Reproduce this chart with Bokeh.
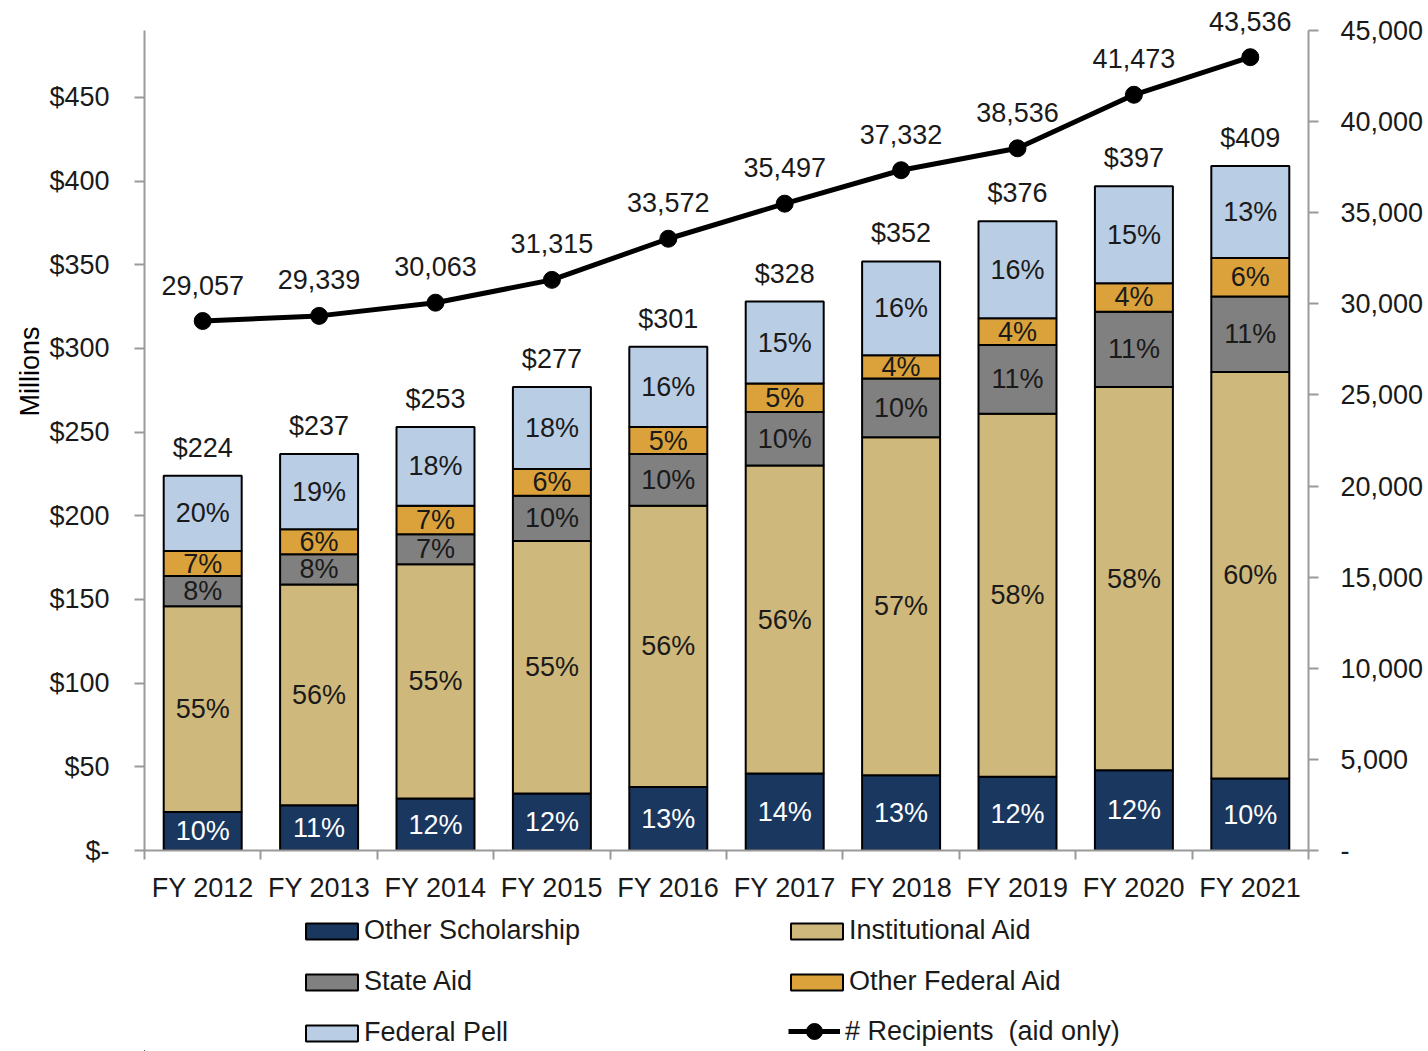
import numpy as np
from bokeh.plotting import figure
from bokeh.layouts import column
from bokeh.models import Range1d, LinearAxis, FixedTicker, Legend, LegendItem, ColumnDataSource, Title
from bokeh.core.properties import value
from bokeh.embed import file_html
from bokeh.resources import INLINE

years = ["FY 2012", "FY 2013", "FY 2014", "FY 2015", "FY 2016",
         "FY 2017", "FY 2018", "FY 2019", "FY 2020", "FY 2021"]

# $ millions per aid type
other_scholarship = [23, 27, 31, 34, 38, 46, 45, 44, 48, 43]
institutional_aid = [123, 132, 140, 151, 168, 184, 202, 217, 229, 243]
state_aid = [18, 18, 18, 27, 31, 32, 35, 41, 45, 45]
other_federal_aid = [15, 15, 17, 16, 16, 17, 14, 16, 17, 23]
federal_pell = [45, 45, 47, 49, 48, 49, 56, 58, 58, 55]

# share labels (%)
pct_other_scholarship = [10, 11, 12, 12, 13, 14, 13, 12, 12, 10]
pct_institutional = [55, 56, 55, 55, 56, 56, 57, 58, 58, 60]
pct_state = [8, 8, 7, 10, 10, 10, 10, 11, 11, 11]
pct_other_federal = [7, 6, 7, 6, 5, 5, 4, 4, 4, 6]
pct_pell = [20, 19, 18, 18, 16, 15, 16, 16, 15, 13]

# number of recipients (aid only)
recipients = [29057, 29339, 30063, 31315, 33572, 35497, 37332, 38536, 41473, 43536]

left_ticks = [0, 50, 100, 150, 200, 250, 300, 350, 400, 450]
right_ticks = [0, 5000, 10000, 15000, 20000, 25000, 30000, 35000, 40000, 45000]
left_max = 490
right_max = 45000

FONT = "Liberation Sans"
FS = "27px"
AXIS_COLOR = "#9a9a9a"
TXT = "#1a1a1a"

series = [
    ("Other Scholarship", other_scholarship, pct_other_scholarship, "#19375f", "white"),
    ("Institutional Aid", institutional_aid, pct_institutional, "#cfb87c", TXT),
    ("State Aid", state_aid, pct_state, "#808080", TXT),
    ("Other Federal Aid", other_federal_aid, pct_other_federal, "#dba23b", TXT),
    ("Federal Pell", federal_pell, pct_pell, "#b9cde5", TXT),
]

n = len(years)
x = np.arange(n) + 0.5

# frame reaches the top of the page (so labels above the axes are not clipped);
# axis lines are bounded to the real value ranges
AXIS_PX = 820.0
TOP_PAD_PX = 30.0
p = figure(width=1428, height=910,
           x_range=Range1d(0, n),
           y_range=Range1d(0, left_max * (AXIS_PX + TOP_PAD_PX) / AXIS_PX),
           output_backend="svg", toolbar_location=None,
           min_border_left=144, min_border_top=0, min_border_right=120,
           min_border_bottom=60)
p.extra_y_ranges = {"rec": Range1d(0, right_max * (AXIS_PX + TOP_PAD_PX) / AXIS_PX)}
p.outline_line_color = None
p.xgrid.visible = False
p.ygrid.visible = False

bottom = np.zeros(n)
for name, vals, pcts, color, tcolor in series:
    vals = np.array(vals, dtype=float)
    top = bottom + vals
    src = ColumnDataSource(dict(x=x, bottom=bottom, top=top,
                                mid=(bottom + top) / 2,
                                lab=[f"{v}%" for v in pcts]))
    p.vbar(x="x", bottom="bottom", top="top", width=0.67, source=src,
           fill_color=color, line_color="black", line_width=2)
    p.text(x="x", y="mid", text="lab", source=src, text_align="center",
           text_baseline="middle", text_font=value(FONT), text_font_size=FS,
           text_color=tcolor)
    bottom = top

totals = bottom
tsrc = ColumnDataSource(dict(x=x, y=totals, lab=[f"${int(t)}" for t in totals]))
p.text(x="x", y="y", text="lab", source=tsrc, text_align="center",
       text_baseline="middle", y_offset=-28, text_font=value(FONT),
       text_font_size=FS, text_color=TXT)

rsrc = ColumnDataSource(dict(x=x, y=recipients, lab=[f"{r:,}" for r in recipients]))
p.line(x="x", y="y", source=rsrc, y_range_name="rec", line_color="black", line_width=5)
p.scatter(x="x", y="y", source=rsrc, y_range_name="rec", size=17,
          fill_color="black", line_color="black")
p.text(x="x", y="y", text="lab", source=rsrc, y_range_name="rec",
       text_align="center", text_baseline="middle", y_offset=-36,
       text_font=value(FONT), text_font_size=FS, text_color=TXT)

# x axis: labels at centers, ticks at boundaries
xa = p.xaxis[0]
xa.ticker = FixedTicker(ticks=list(x), minor_ticks=list(range(0, n + 1)))
xa.major_label_overrides = {float(xx): yy for xx, yy in zip(x, years)}
xa.major_tick_line_color = None
xa.major_tick_out = 0
xa.major_tick_in = 0
xa.minor_tick_out = 9
xa.minor_tick_in = 0
xa.minor_tick_line_color = AXIS_COLOR
xa.minor_tick_line_width = 2
xa.axis_line_color = AXIS_COLOR
xa.axis_line_width = 2
xa.major_label_text_font = FONT
xa.major_label_text_font_size = FS
xa.major_label_text_color = TXT
xa.major_label_standoff = 13

ya = p.yaxis[0]
ya.bounds = (0, left_max)
ya.ticker = FixedTicker(ticks=left_ticks, minor_ticks=[])
ya.major_label_overrides = {t: ("$-" if t == 0 else f"${t}") for t in left_ticks}
ya.major_tick_out = 10
ya.major_tick_in = 0
ya.major_tick_line_color = AXIS_COLOR
ya.major_tick_line_width = 2
ya.minor_tick_line_color = None
ya.axis_line_color = AXIS_COLOR
ya.axis_line_width = 2
ya.major_label_text_font = FONT
ya.major_label_text_font_size = FS
ya.major_label_text_color = TXT
ya.major_label_standoff = 25

ylabel = Title(text="Millions", align="left", offset=434, standoff=4,
               text_font=FONT, text_font_size=FS, text_font_style="normal",
               text_color="black")
p.add_layout(ylabel, "left")

ra = LinearAxis(y_range_name="rec", bounds=(0, right_max),
                ticker=FixedTicker(ticks=right_ticks, minor_ticks=[]))
ra.major_label_overrides = {t: ("-" if t == 0 else f"{t:,}") for t in right_ticks}
ra.major_tick_out = 10
ra.major_tick_in = 0
ra.major_tick_line_color = AXIS_COLOR
ra.major_tick_line_width = 2
ra.minor_tick_line_color = None
ra.axis_line_color = AXIS_COLOR
ra.axis_line_width = 2
ra.major_label_text_font = FONT
ra.major_label_text_font_size = FS
ra.major_label_text_color = TXT
ra.major_label_standoff = 22
p.add_layout(ra, "right")

# legend strip below the chart
lg = figure(width=1428, height=141, x_range=Range1d(0, 1), y_range=Range1d(0, 1),
            output_backend="svg", toolbar_location=None, min_border=0,
            x_axis_location=None, y_axis_location=None)
lg.grid.visible = False
lg.outline_line_color = None

legend_renderers = {}
for name, vals, pcts, color, tcolor in series:
    legend_renderers[name] = lg.vbar(x=[-5], top=[-5], bottom=[-6], width=0.1,
                                     fill_color=color, line_color="black", line_width=2)
leg_line = lg.line(x=[-5, -4], y=[-5, -5], line_color="black", line_width=5)
leg_dot = lg.scatter(x=[-5], y=[-5], size=17, fill_color="black", line_color="black")

bar_items = [
    LegendItem(label="Other Scholarship", renderers=[legend_renderers["Other Scholarship"]]),
    LegendItem(label="State Aid", renderers=[legend_renderers["State Aid"]]),
    LegendItem(label="Federal Pell", renderers=[legend_renderers["Federal Pell"]]),
    LegendItem(label="Institutional Aid", renderers=[legend_renderers["Institutional Aid"]]),
    LegendItem(label="Other Federal Aid", renderers=[legend_renderers["Other Federal Aid"]]),
]
legend = Legend(items=bar_items, ncols=2, location=(155, 3),
                glyph_width=65, glyph_height=20, label_standoff=-2,
                label_width=400, label_height=31, spacing=20,
                padding=0, margin=0, border_line_color=None,
                background_fill_alpha=0,
                label_text_font=FONT, label_text_font_size=FS,
                label_text_color=TXT)
lg.add_layout(legend, "center")

legend2 = Legend(items=[LegendItem(label="# Recipients  (aid only)", renderers=[leg_line, leg_dot])],
                 location=(644, 0),
                 glyph_width=52, glyph_height=40, label_standoff=5,
                 label_height=31, padding=0, margin=0, border_line_color=None,
                 background_fill_alpha=0,
                 label_text_font=FONT, label_text_font_size=FS,
                 label_text_color=TXT)
lg.add_layout(legend2, "center")

layout = column(p, lg, spacing=0)
open("out.html", "w").write(file_html(layout, INLINE))
